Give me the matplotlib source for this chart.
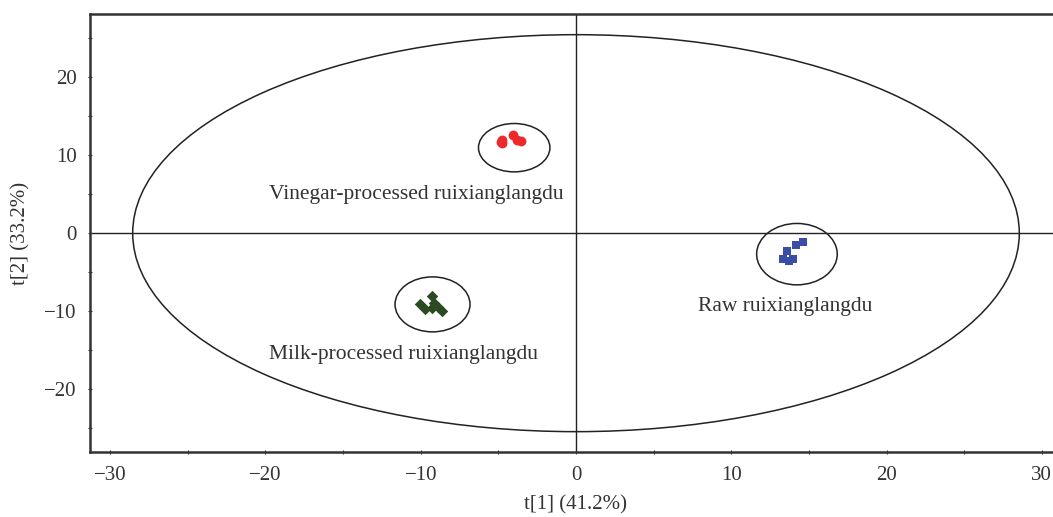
import matplotlib
matplotlib.use("Agg")
import matplotlib.pyplot as plt
from matplotlib.patches import Ellipse
from matplotlib.ticker import MultipleLocator, FuncFormatter

plt.rcParams['font.family'] = ['Liberation Serif', 'DejaVu Serif']

# Data
vinegar_x = [-4.85, -4.75, -4.08, -3.82, -3.56, -4.78]
vinegar_y = [11.7, 11.5, 12.56, 11.92, 11.8, 12.0]
raw_x = [13.57, 14.15, 14.64, 13.35, 13.72, 14.0]
raw_y = [-2.31, -1.54, -1.19, -3.37, -3.59, -3.37]
milk_x = [-10.05, -9.72, -9.25, -9.12, -9.29, -8.65, -8.87]
milk_y = [-9.10, -9.78, -8.08, -8.94, -9.65, -9.96, -9.45]

group_labels = ["Vinegar-processed ruixianglangdu", "Raw ruixianglangdu",
                "Milk-processed ruixianglangdu"]
label_pos = [(-10.3, 4.95), (13.5, -9.4), (-11.1, -15.6)]

# group ellipses: center x, center y, width, height
group_ellipses = [(-3.98, 10.96, 4.6, 6.2), (14.23, -2.69, 5.19, 7.87),
                  (-9.24, -9.13, 4.83, 7.05)]
hotelling = (0.0, 0.0, 57.1, 50.9)

xlim = (-31.3, 31.3)
ylim = (-28.1, 28.1)

fig = plt.figure(figsize=(10.53, 5.17), dpi=100)
ax = fig.add_axes([90/1053, 0.1251, 972/1053, 0.8478])

ax.axhline(0, color='#222222', lw=1.0, zorder=1)
ax.axvline(0, color='#222222', lw=1.0, zorder=1)

cx, cy, w, h = hotelling
ax.add_patch(Ellipse((cx, cy), w, h, fill=False, ec='#222222', lw=1.1, zorder=2))
for (cx, cy, w, h) in group_ellipses:
    ax.add_patch(Ellipse((cx, cy), w, h, fill=False, ec='#222222', lw=1.1, zorder=2))

ax.scatter(vinegar_x, vinegar_y, marker='o', s=50, color='#ec2a2a', zorder=3, linewidths=0)
ax.scatter(raw_x, raw_y, marker='s', s=34, color='#3a4ea6', zorder=3, linewidths=0)
ax.scatter(milk_x, milk_y, marker='D', s=34, color='#2b4a22', zorder=3, linewidths=0)

for lab, (lx, ly) in zip(group_labels, label_pos):
    ax.text(lx, ly, lab, ha='center', va='center', fontsize=15.5, color='#333333')

ax.set_xlim(*xlim)
ax.set_ylim(*ylim)
ax.xaxis.set_major_locator(MultipleLocator(10))
ax.xaxis.set_minor_locator(MultipleLocator(5))
ax.yaxis.set_major_locator(MultipleLocator(10))
ax.yaxis.set_minor_locator(MultipleLocator(5))
ax.tick_params(which='both', direction='inout', length=3, width=0.8, color='#333333',
               labelsize=15, labelcolor='#333333')
ax.tick_params(axis='x', pad=8)
ax.tick_params(axis='y', pad=8)
fmt = FuncFormatter(lambda v, p: ('\u2212%d' % abs(v)) if v < 0 else '%d' % v)
ax.xaxis.set_major_formatter(fmt)
ax.yaxis.set_major_formatter(fmt)

for s in ['left', 'bottom', 'top']:
    ax.spines[s].set_linewidth(1.8)
    ax.spines[s].set_color('#333333')
ax.spines['right'].set_visible(False)

ax.set_xlabel('t[1] (41.2%)', fontsize=15, color='#333333', labelpad=8)
ax.set_ylabel('t[2] (33.2%)', fontsize=15, color='#333333', labelpad=10)

fig.savefig('out.png', dpi=100)
